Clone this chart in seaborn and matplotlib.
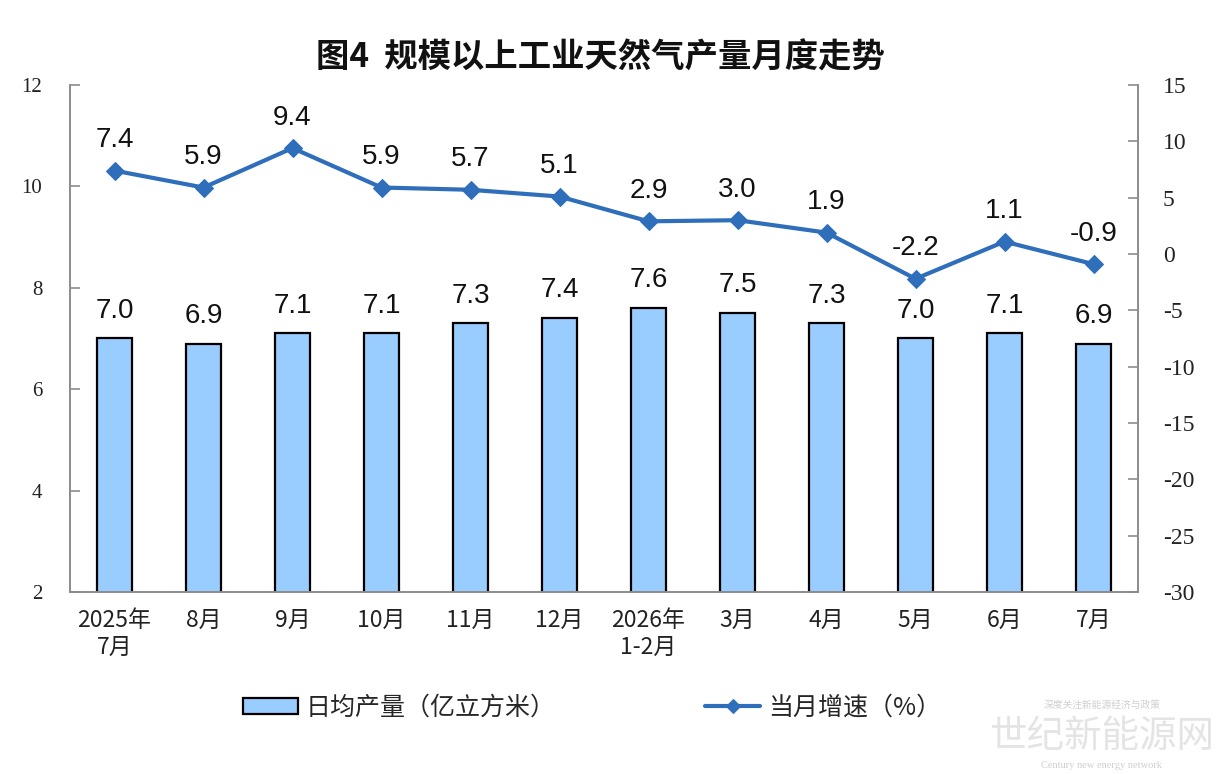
import matplotlib
matplotlib.use("Agg")
import matplotlib.pyplot as plt
import pandas as pd
import seaborn as sns

# =========================
# DATA
# =========================
months = ["2025年\n7月", "8月", "9月", "10月", "11月", "12月",
          "2026年\n1-2月", "3月", "4月", "5月", "6月", "7月"]
daily_output = [7.0, 6.9, 7.1, 7.1, 7.3, 7.4, 7.6, 7.5, 7.3, 7.0, 7.1, 6.9]
growth_rate = [7.4, 5.9, 9.4, 5.9, 5.7, 5.1, 2.9, 3.0, 1.9, -2.2, 1.1, -0.9]

title = "图4  规模以上工业天然气产量月度走势"
bar_name = "日均产量（亿立方米）"
line_name = "当月增速（%）"
left_ticks = [2, 4, 6, 8, 10, 12]
right_ticks = [-30, -25, -20, -15, -10, -5, 0, 5, 10, 15]

df = pd.DataFrame({"month": months, "output": daily_output, "growth": growth_rate})

# =========================
# STYLE
# =========================
sns.set_style("white")
CJK = ["Noto Sans CJK SC", "DejaVu Sans"]
plt.rcParams["font.family"] = CJK
plt.rcParams["axes.unicode_minus"] = False
BAR_COLOR = "#99CCFF"
LINE_COLOR = "#2F6EBA"
SPINE_COLOR = "#8c8c8c"

fig = plt.figure(figsize=(12.2, 7.75), dpi=100)
ax = fig.add_axes([70 / 1220, 183 / 775, 1068 / 1220, 507 / 775])
ax2 = ax.twinx()

# =========================
# BARS
# =========================
sns.barplot(data=df, x="month", y="output", order=months, ax=ax,
            color=BAR_COLOR, edgecolor="black", linewidth=1.6,
            width=0.4, saturation=1, label=bar_name)
ax.set_ylim(2, 12)
ax.set_xlim(-0.5, len(months) - 0.5)
ax.set_yticks(left_ticks)
ax.set_xlabel("")
ax.set_ylabel("")

for i, v in enumerate(daily_output):
    ax.annotate(f"{v:.1f}", (i, v), xytext=(0, 20), textcoords="offset points",
                ha="center", va="center", fontsize=20,
                family="Liberation Sans", color="#111111")

# =========================
# LINE
# =========================
sns.lineplot(data=df, x="month", y="growth", ax=ax2, color=LINE_COLOR,
             linewidth=3, marker="D", markersize=9, markeredgecolor=LINE_COLOR,
             label=line_name, sort=False)
ax2.set_ylim(-30, 15)
ax2.set_yticks(right_ticks)
ax2.set_ylabel("")
ax2.set_xlabel("")

for i, v in enumerate(growth_rate):
    ax2.annotate(f"{v:.1f}", (i, v), xytext=(0, 22), textcoords="offset points",
                 ha="center", va="center", fontsize=20,
                 family="Liberation Sans", color="#111111")

# =========================
# AXES
# =========================
for a in (ax, ax2):
    a.spines["top"].set_visible(False)
    for side in ("left", "right", "bottom"):
        a.spines[side].set_color(SPINE_COLOR)
        a.spines[side].set_linewidth(1.2)

ax.set_xticks(range(len(months)))
ax.set_xticklabels(months, fontsize=16.5, color="#222222", linespacing=1.25)
ax.set_xticks([i + 0.5 for i in range(-1, len(months))], minor=True)
ax.tick_params(axis="x", which="major", length=0, pad=12)
ax.tick_params(axis="x", which="minor", direction="in", length=6,
               color=SPINE_COLOR, width=1.2)
ax.tick_params(axis="y", direction="in", length=7, color=SPINE_COLOR,
               width=1.2, pad=20, labelsize=15)
ax2.tick_params(axis="y", direction="in", length=7, color=SPINE_COLOR,
                width=1.2, pad=18, labelsize=17)
for lab in ax.get_yticklabels() + ax2.get_yticklabels():
    lab.set_family("Liberation Serif")
    lab.set_color("#222222")

fig.text(0.492, 0.925, title, ha="center", va="center",
         fontsize=24, fontweight="bold", color="#111111")

# =========================
# LEGEND
# =========================
h1, l1 = ax.get_legend_handles_labels()
h2, l2 = ax2.get_legend_handles_labels()
for a in (ax, ax2):
    if a.get_legend():
        a.get_legend().remove()
fig.legend(h1 + h2, l1 + l2, loc="center", bbox_to_anchor=(0.485, 0.087),
           ncol=2, frameon=False, fontsize=18, handlelength=2.2,
           handleheight=0.6, handletextpad=0.3, columnspacing=6,
           markerscale=0.75)

# watermark
fig.text(0.903, 0.05, "世纪新能源网", ha="center", va="center",
         fontsize=27, color="#e4e4e4")
fig.text(0.903, 0.012, "Century new energy network", ha="center",
         va="center", fontsize=7.5, color="#cfcfcf", family="Liberation Serif")
fig.text(0.903, 0.09, "深度关注新能源经济与政策", ha="center", va="center",
         fontsize=7, color="#cfcfcf")

fig.savefig("out.png", dpi=100, facecolor="white")
